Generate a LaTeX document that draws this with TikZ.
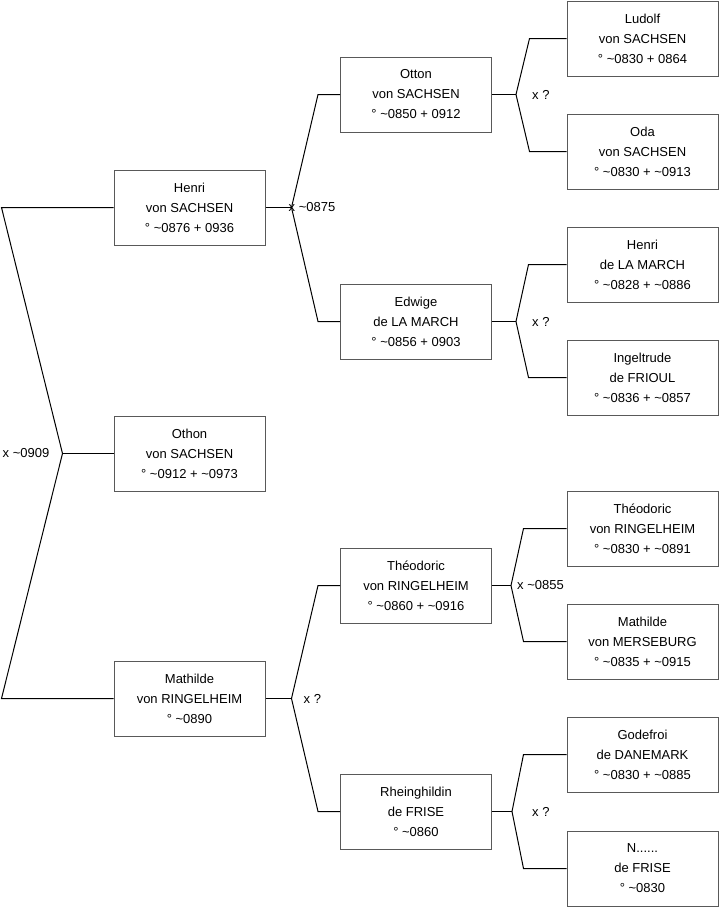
\documentclass[tikz,border=0pt]{standalone}
\usepackage{fontspec}
\setmainfont{Liberation Sans}
\usetikzlibrary{positioning,calc}

\begin{document}
\begin{tikzpicture}[
    x=1pt, y=-1pt,
    person/.style={
      rectangle, draw=black!65, fill=white, line width=1pt,
      minimum width=151pt, minimum height=75pt, inner sep=0pt,
      font=\fontsize{13}{20}\selectfont, align=center
    },
    link/.style={
      line width=1pt, black
    },
    union/.style={
      font=\fontsize{13}{16}\selectfont, inner sep=0pt
    }
  ]
  \useasboundingbox (0,0) rectangle (719,908);

  % --- Generation 1 ---
  \node[person] (othon) at (189.5,453.5) {Othon\\von SACHSEN\\° \textasciitilde0912 + \textasciitilde0973};

  % --- Generation 2 ---
  \node[person] (henri) at (189.5,207.5) {Henri\\von SACHSEN\\° \textasciitilde0876 + 0936};
  \node[person] (mathilde) at (189.5,698.5) {Mathilde\\von RINGELHEIM\\° \textasciitilde0890};

  % --- Generation 3 ---
  \node[person] (otton) at (416,94.5) {Otton\\von SACHSEN\\° \textasciitilde0850 + 0912};
  \node[person] (edwige) at (416,321.5) {Edwige\\de LA MARCH\\° \textasciitilde0856 + 0903};
  \node[person] (theodoric) at (416,585.5) {Théodoric\\von RINGELHEIM\\° \textasciitilde0860 + \textasciitilde0916};
  \node[person] (rheinghildin) at (416,811.5) {Rheinghildin\\de FRISE\\° \textasciitilde0860};

  % --- Generation 4 ---
  \node[person] (ludolf) at (642.5,38.5) {Ludolf\\von SACHSEN\\° \textasciitilde0830 + 0864};
  \node[person] (oda) at (642.5,151.5) {Oda\\von SACHSEN\\° \textasciitilde0830 + \textasciitilde0913};
  \node[person] (henrilm) at (642.5,264.5) {Henri\\de LA MARCH\\° \textasciitilde0828 + \textasciitilde0886};
  \node[person] (ingeltrude) at (642.5,377.5) {Ingeltrude\\de FRIOUL\\° \textasciitilde0836 + \textasciitilde0857};
  \node[person] (theodoricr) at (642.5,528.5) {Théodoric\\von RINGELHEIM\\° \textasciitilde0830 + \textasciitilde0891};
  \node[person] (mathildem) at (642.5,641.5) {Mathilde\\von MERSEBURG\\° \textasciitilde0835 + \textasciitilde0915};
  \node[person] (godefroi) at (642.5,754.5) {Godefroi\\de DANEMARK\\° \textasciitilde0830 + \textasciitilde0885};
  \node[person] (nfrise) at (642.5,868.5) {N......\\de FRISE\\° \textasciitilde0830};

  % --- Unions ---
  \coordinate (u0) at ($(othon.west)+(-51,0)$);
  \draw[link] (henri.west) -- ++(-112,0) -- (u0) -- ($(mathilde.west)+(-112,0)$) -- (mathilde.west);
  \draw[link] (othon.west) -- (u0);
  \node[union, left=13pt of u0] (l0) {x \textasciitilde0909};

  \coordinate (u1) at ($(henri.east)+(26,0)$);
  \draw[link] (henri.east) -- (u1);
  \draw[link] (otton.west) -- ++(-22,0) -- (u1) -- ($(edwige.west)+(-22,0)$) -- (edwige.west);
  \node[union, anchor=west] (l1) at ($(u1)+(-3,0)$) {x \textasciitilde0875};

  \coordinate (u2) at ($(mathilde.east)+(26,0)$);
  \draw[link] (mathilde.east) -- (u2);
  \draw[link] (theodoric.west) -- ++(-22,0) -- (u2) -- ($(rheinghildin.west)+(-22,0)$) -- (rheinghildin.west);
  \node[union, right=12pt of u2] (l2) {x ?};

  \coordinate (u3) at ($(otton.east)+(24,0)$);
  \draw[link] (otton.east) -- (u3);
  \draw[link] (ludolf.west) -- ++(-37,0) -- (u3) -- ($(oda.west)+(-37,0)$) -- (oda.west);
  \node[union, right=16pt of u3] (l3) {x ?};

  \coordinate (u4) at ($(edwige.east)+(24,0)$);
  \draw[link] (edwige.east) -- (u4);
  \draw[link] (henrilm.west) -- ++(-38,0) -- (u4) -- ($(ingeltrude.west)+(-38,0)$) -- (ingeltrude.west);
  \node[union, right=16pt of u4] (l4) {x ?};

  \coordinate (u5) at ($(theodoric.east)+(19,0)$);
  \draw[link] (theodoric.east) -- (u5);
  \draw[link] (theodoricr.west) -- ++(-43,0) -- (u5) -- ($(mathildem.west)+(-43,0)$) -- (mathildem.west);
  \node[union, right=6pt of u5] (l5) {x \textasciitilde0855};

  \coordinate (u6) at ($(rheinghildin.east)+(20,0)$);
  \draw[link] (rheinghildin.east) -- (u6);
  \draw[link] (godefroi.west) -- ++(-43,0) -- (u6) -- ($(nfrise.west)+(-43,0)$) -- (nfrise.west);
  \node[union, right=20pt of u6] (l6) {x ?};
\end{tikzpicture}
\end{document}
